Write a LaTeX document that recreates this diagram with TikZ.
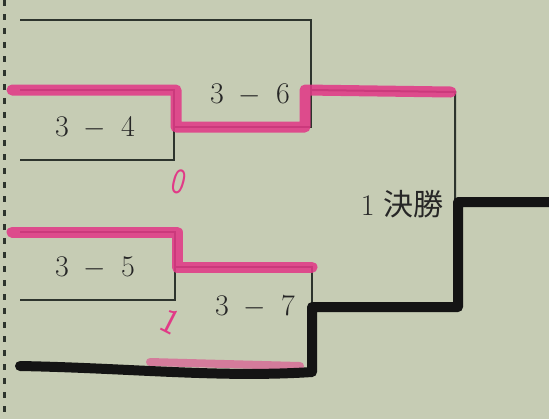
\documentclass[tikz,border=0pt]{standalone}
\usepackage{fontspec}
\newfontfamily\jpfont{Noto Sans CJK JP}
\usetikzlibrary{calc}
\definecolor{paper}{RGB}{198,204,180}
\definecolor{marker}{RGB}{225,58,135}
\definecolor{ink}{RGB}{45,52,45}

\begin{document}
\begin{tikzpicture}[x=0.5pt, y=-0.5pt,
    printed/.style={draw=ink, line width=1pt},
    pinkpen/.style={draw=marker, line width=5.5pt, line join=round, line cap=round, opacity=0.88},
    blackpen/.style={draw=black!92, line width=5pt, line join=round, line cap=round},
    score/.style={font=\fontsize{15}{17}\selectfont, text=black!85, inner sep=1pt},
    handnum/.style={font=\sffamily\fontsize{18}{20}\selectfont, text=marker, inner sep=0pt}]
  \fill[paper] (0,0) rectangle (549,419);
  \useasboundingbox (0,0) rectangle (549,419);
  % binding edge
  \draw[ink, line width=1.5pt, dash pattern=on 3pt off 4pt] (4,0) -- (4,419);

  % bracket corners
  \coordinate (top36l) at (20,20);
  \coordinate (top36r) at (311,20);
  \coordinate (mid36) at (311,127);
  \coordinate (out36) at (311,90);
  \coordinate (top34l) at (20,90);
  \coordinate (top34r) at (174,90);
  \coordinate (mid34) at (174,127);
  \coordinate (bot34r) at (174,160);
  \coordinate (bot34l) at (20,160);
  \coordinate (semi1) at (455,92);
  \coordinate (fin) at (455,202);
  \coordinate (outF) at (549,202);
  \coordinate (top35l) at (20,232);
  \coordinate (top35r) at (175,232);
  \coordinate (mid35) at (175,267);
  \coordinate (bot35r) at (175,300);
  \coordinate (bot35l) at (20,300);
  \coordinate (top37r) at (312,267);
  \coordinate (mid37) at (312,307);
  \coordinate (bot37r) at (312,372);
  \coordinate (bot37l) at (20,366);
  \coordinate (semi2) at (455,307);

  % printed lines
  \draw[printed] (top36l) -- (top36r) -- (mid36) -- (mid34);
  \draw[printed] (top34l) -- (top34r) -- (bot34r) -- (bot34l);
  \draw[printed] (out36) -- (semi1) -- (fin);
  \draw[printed] (top35l) -- (top35r) -- (bot35r) -- (bot35l);
  \draw[printed] (mid35) -- (top37r) -- (bot37r);

  % pink marker
  \draw[pinkpen] ([xshift=-4pt]top34l) -- ([xshift=1pt]top34r) -- ([xshift=1pt]mid34)
    -- ([xshift=-3pt]mid36) -- ([xshift=-3pt]out36) -- ([xshift=-2pt]semi1);
  \draw[pinkpen] ([xshift=-4pt]top35l) -- ([xshift=1pt]top35r) -- ([xshift=1pt]mid35) -- (top37r);
  \draw[pinkpen, line width=4pt, opacity=0.55] (150,362) -- (300,366);

  % black marker
  \draw[blackpen] (outF) -- ([xshift=1.5pt]fin) -- ([xshift=1.5pt]semi2) -- (mid37)
    -- (bot37r) .. controls (220,378) and (130,368) .. (bot37l);

  % labels
  \node[score] (l36) at (250,95) {3\enspace$-$\enspace6};
  \node[score] (l34) at (95,128) {3\enspace$-$\enspace4};
  \node[score] (l35) at (95,268) {3\enspace$-$\enspace5};
  \node[score] (l37) at (255,307) {3\enspace$-$\enspace7};
  \node[score, anchor=east] (lfin) at (446,204) {1\ {\jpfont 決勝}};
  \node[handnum, rotate=-15, xscale=0.8] (n34) at (179,182) {0};
  \node[handnum, rotate=-27] (n35) at (171,322) {1};
\end{tikzpicture}
\end{document}
